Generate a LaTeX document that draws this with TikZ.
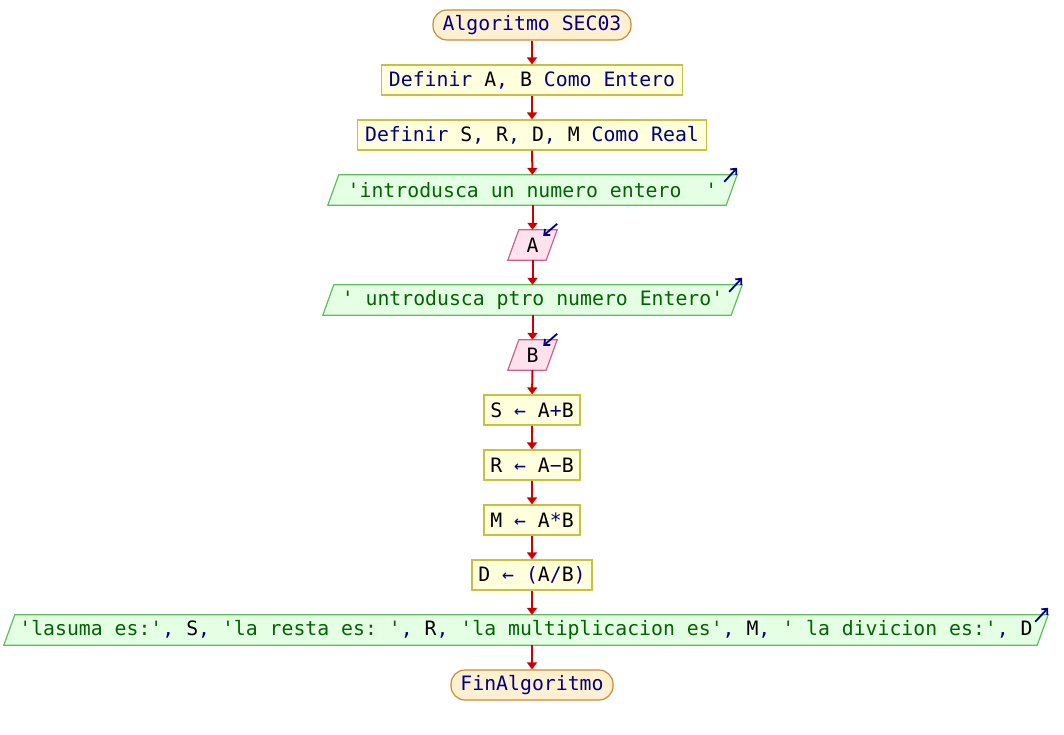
\documentclass[tikz,border=0pt]{standalone}
\usepackage{fontspec}
\newfontfamily\psefont{DejaVu Sans Mono}
\usetikzlibrary{arrows.meta}
\definecolor{kwc}{HTML}{000080}
\definecolor{strc}{HTML}{006400}
\definecolor{flowred}{HTML}{CC0000}
\definecolor{termf}{HTML}{FFF0D2}
\definecolor{termb}{HTML}{CC8A33}
\definecolor{procf}{HTML}{FFFFDD}
\definecolor{procb}{HTML}{C8C040}
\definecolor{outf}{HTML}{E4FFE4}
\definecolor{outb}{HTML}{5CBF5C}
\definecolor{inf}{HTML}{FFE2EE}
\definecolor{inb}{HTML}{C8628F}
\newcommand\kwd[1]{\textcolor{kwc}{#1}}
\newcommand\strg[1]{\textcolor{strc}{#1}}
\pgfdeclarelayer{bg}
\pgfsetlayers{bg,main}
\tikzset{
  base/.style={inner sep=0pt, minimum height=30pt, font=\psefont\fontsize{19.8}{24}\selectfont, text=black},
  term/.style={base, draw=termb, fill=termf, line width=1.2pt, rounded corners=14pt},
  proc/.style={base, draw=procb, fill=procf, line width=1.2pt},
  iobox/.style={base},
  outshape/.style={draw=outb, fill=outf, line width=1.2pt},
  inshape/.style={draw=inb, fill=inf, line width=1.2pt},
  flow/.style={draw=flowred, line width=2pt, -{Triangle[width=10pt,length=7pt]}},
  icon/.style={draw=kwc, line width=1.8pt, -{Straight Barb[length=4.5pt,width=8pt]}}
}
\begin{document}
\begin{tikzpicture}[x=1pt,y=-1pt]
\path[use as bounding box] (0,0) rectangle (1064,735);

\node[term, minimum width=198pt] (start) at (532,25) {\kwd{Algoritmo SEC03}};
\node[proc, minimum width=301pt] (def1) at (532,80) {\kwd{Definir} A\kwd{,} B \kwd{Como Entero}};
\node[proc, minimum width=349pt] (def2) at (532,135) {\kwd{Definir} S\kwd{,} R\kwd{,} D\kwd{,} M \kwd{Como Real}};
\node[iobox, minimum width=409pt] (out1) at (532.5,190) {\strg{'introdusca un numero entero~~'}};
\node[iobox, minimum width=49pt] (ina) at (532.5,245) {A};
\node[iobox, minimum width=419pt] (out2) at (532.5,300) {\strg{'~untrodusca ptro numero Entero'}};
\node[iobox, minimum width=49pt] (inb) at (532.5,355) {B};
\node[proc, minimum width=96pt] (s) at (532,410) {S \kwd{←} A\kwd{+}B};
\node[proc, minimum width=96pt] (r) at (532,465) {R \kwd{←} A\kwd{−}B};
\node[proc, minimum width=96pt] (m) at (532,520) {M \kwd{←} A\kwd{*}B};
\node[proc, minimum width=120pt] (d) at (532,575) {D \kwd{←} \kwd{(}A\kwd{/}B\kwd{)}};
\node[iobox, minimum width=1044pt] (outl) at (526,630) {\strg{'lasuma es:'}\kwd{,} S\kwd{,} \strg{'la resta es:~'}\kwd{,} R\kwd{,} \strg{'la multiplicacion es'}\kwd{,} M\kwd{,} \strg{'~la divicion es:'}\kwd{,} D};
\node[term, minimum width=162pt] (fin) at (532,685) {\kwd{FinAlgoritmo}};

\begin{pgfonlayer}{bg}
\foreach \n in {out1,out2,outl}{
  \path[outshape] (\n.south west) -- ([xshift=11pt]\n.north west) -- (\n.north east) -- ([xshift=-11pt]\n.south east) -- cycle;
}
\foreach \n in {ina,inb}{
  \path[inshape] (\n.south west) -- ([xshift=11pt]\n.north west) -- (\n.north east) -- ([xshift=-11pt]\n.south east) -- cycle;
}
\end{pgfonlayer}

\foreach \n in {out1,out2,outl}{
  \draw[icon] ([xshift=-13pt,yshift=-7pt]\n.north east) -- ([yshift=7pt]\n.north east);
}
\foreach \n in {ina,inb}{
  \draw[icon] ([yshift=6pt]\n.north east) -- ([xshift=-14pt,yshift=-6pt]\n.north east);
}

\draw[flow] (start) -- (def1);
\draw[flow] (def1) -- (def2);
\draw[flow] (def2) -- (out1);
\draw[flow] (out1) -- (ina);
\draw[flow] (ina) -- (out2);
\draw[flow] (out2) -- (inb);
\draw[flow] (inb) -- (s);
\draw[flow] (s) -- (r);
\draw[flow] (r) -- (m);
\draw[flow] (m) -- (d);
\draw[flow] (d) -- (d |- outl.north);
\draw[flow] (fin |- outl.south) -- (fin);
\end{tikzpicture}
\end{document}
